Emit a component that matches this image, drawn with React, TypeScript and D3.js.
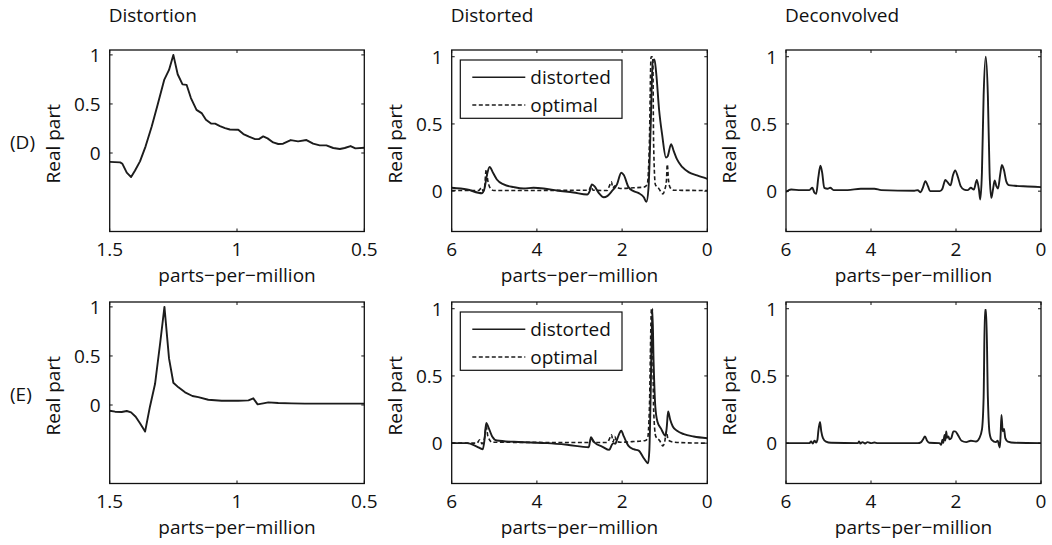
import React from 'react';
import * as d3 from 'd3';

// [ppm, real part]
const distortionD: [number, number][] = [
  [1.5, -0.09], [1.459, -0.095], [1.45, -0.11], [1.433, -0.2], [1.416, -0.245], [1.401, -0.18],
  [1.381, -0.085], [1.359, 0.068], [1.335, 0.27], [1.312, 0.49], [1.286, 0.745], [1.267, 0.847],
  [1.25, 1.0], [1.233, 0.803], [1.214, 0.7], [1.198, 0.695], [1.181, 0.56], [1.159, 0.44],
  [1.139, 0.407], [1.122, 0.34], [1.102, 0.3], [1.086, 0.3], [1.067, 0.275], [1.047, 0.254],
  [1.028, 0.24], [0.995, 0.237], [0.975, 0.193], [0.953, 0.166], [0.929, 0.142], [0.914, 0.142],
  [0.897, 0.17], [0.88, 0.149], [0.858, 0.108], [0.838, 0.092], [0.819, 0.095], [0.789, 0.132],
  [0.76, 0.119], [0.727, 0.132], [0.701, 0.095], [0.675, 0.078], [0.649, 0.078], [0.622, 0.051],
  [0.596, 0.041], [0.577, 0.051], [0.554, 0.071], [0.535, 0.047], [0.5, 0.054],
];

const distortedD: [number, number][] = [
  [6.0, 0.025], [5.64, 0.012], [5.29, -0.015], [5.23, 0.02], [5.17, 0.124], [5.11, 0.18],
  [5.03, 0.137], [4.94, 0.087], [4.78, 0.05], [4.54, 0.03], [4.31, 0.02], [4.08, 0.025],
  [3.84, 0.02], [3.53, 0.005], [3.14, -0.01], [2.82, -0.025], [2.76, 0], [2.71, 0.05],
  [2.65, 0.037], [2.55, -0.012], [2.43, -0.045], [2.35, -0.037], [2.24, 0], [2.12, 0.05],
  [2.02, 0.137], [1.96, 0.12], [1.85, 0.03], [1.73, 0], [1.61, -0.015], [1.49, -0.045],
  [1.43, -0.08], [1.38, 0.025], [1.33, 0.47], [1.28, 0.97], [1.24, 0.98], [1.2, 0.88],
  [1.13, 0.6], [1.06, 0.42], [0.97, 0.25], [0.93, 0.26], [0.85, 0.35], [0.79, 0.3],
  [0.71, 0.236], [0.59, 0.18], [0.44, 0.142], [0.24, 0.117], [0, 0.092],
];

const optimalD: [number, number][] = [
  [6, 0.005], [5.37, 0.005], [5.3, 0.025], [5.26, 0], [5.23, 0.025], [5.19, 0.16], [5.15, 0.075],
  [5.09, 0.02], [5.01, 0.005], [2.78, 0.007], [2.73, 0.037], [2.68, 0.007], [2.35, 0.005],
  [2.3, 0.037], [2.25, 0.07], [2.22, 0.025], [2.16, 0.04], [2.1, 0.025], [2.04, 0.02],
  [1.73, 0.025], [1.49, 0.03], [1.41, 0.05], [1.36, 0.35], [1.32, 1.0], [1.28, 1.0],
  [1.26, 0.35], [1.22, 0.05], [1.14, 0.02], [1.04, -0.02], [1.0, 0.01], [0.96, 0.075],
  [0.94, 0.2], [0.91, 0.08], [0.87, 0.025], [0.79, 0.007], [0, 0.005],
];

const deconvolvedD: [number, number][] = [
  [6, -0.005], [5.88, 0.012], [5.65, 0.008], [5.45, 0.008], [5.38, 0.025], [5.33, -0.012],
  [5.29, -0.02], [5.24, 0.1], [5.19, 0.19], [5.15, 0.14], [5.1, 0.025], [5.02, 0.018],
  [4.96, 0.025], [4.88, 0.008], [4.55, 0.008], [4.24, 0.018], [3.92, 0.018], [3.76, 0.008],
  [2.98, 0.003], [2.9, 0.008], [2.84, -0.008], [2.78, 0.025], [2.72, 0.075], [2.66, 0.037],
  [2.61, 0], [2.38, 0], [2.32, 0.018], [2.25, 0.083], [2.2, 0.067], [2.13, 0.043],
  [2.07, 0.12], [2.02, 0.155], [1.95, 0.1], [1.89, 0.037], [1.81, 0.012], [1.72, 0.008],
  [1.65, 0.025], [1.58, 0.012], [1.51, 0.083], [1.46, 0.012], [1.43, -0.062], [1.39, 0.137],
  [1.35, 0.71], [1.3, 1.0], [1.25, 0.71], [1.21, 0.137], [1.17, -0.05], [1.13, 0.012],
  [1.09, 0.08], [1.05, 0.037], [1.01, 0.02], [0.96, 0.125], [0.92, 0.195], [0.87, 0.155],
  [0.82, 0.075], [0.76, 0.045], [0.62, 0.04], [0.31, 0.035], [0, 0.03],
];

const distortionE: [number, number][] = [
  [1.5, -0.058], [1.479, -0.068], [1.453, -0.071], [1.433, -0.061], [1.416, -0.075],
  [1.398, -0.119], [1.381, -0.186], [1.361, -0.271], [1.342, -0.017], [1.322, 0.214],
  [1.302, 0.627], [1.285, 1.0], [1.267, 0.475], [1.25, 0.227], [1.23, 0.18], [1.204, 0.129],
  [1.175, 0.092], [1.152, 0.081], [1.113, 0.054], [1.06, 0.044], [0.995, 0.044],
  [0.955, 0.047], [0.936, 0.068], [0.919, 0.007], [0.897, 0.017], [0.877, 0.027],
  [0.838, 0.02], [0.786, 0.017], [0.733, 0.014], [0.602, 0.014], [0.5, 0.014],
];

const distortedE: [number, number][] = [
  [6, 0], [5.64, 0], [5.41, -0.025], [5.27, -0.045], [5.23, 0.025], [5.19, 0.15], [5.13, 0.112],
  [5.05, 0.05], [4.94, 0.02], [4.54, 0.01], [4.15, 0.005], [3.76, 0], [3.29, -0.012],
  [2.78, -0.03], [2.76, 0], [2.73, 0.045], [2.69, 0.025], [2.63, 0], [2.47, -0.025],
  [2.3, -0.05], [2.24, -0.012], [2.2, 0], [2.16, -0.005], [2.12, 0.025], [2.06, 0.075],
  [2.02, 0.092], [1.96, 0.05], [1.85, -0.02], [1.73, -0.045], [1.61, -0.055], [1.49, -0.112],
  [1.39, -0.15], [1.36, -0.05], [1.33, 0.35], [1.29, 1.0], [1.26, 0.6], [1.22, 0.27],
  [1.17, 0.16], [1.09, 0.11], [0.98, 0.055], [0.95, 0.125], [0.92, 0.236], [0.87, 0.174],
  [0.81, 0.124], [0.71, 0.092], [0.55, 0.067], [0.32, 0.05], [0, 0.037],
];

const optimalE: [number, number][] = [
  [6, 0], [5.41, 0], [5.34, 0.025], [5.29, -0.005], [5.23, 0.037], [5.19, 0.125], [5.15, 0.05],
  [5.05, 0.007], [2.76, 0.005], [2.72, 0.045], [2.67, 0.005], [2.35, 0.005], [2.3, 0.03],
  [2.25, 0.062], [2.21, 0.01], [2.17, 0.05], [2.13, 0.015], [2.04, 0.007], [1.73, 0.012],
  [1.45, 0.02], [1.4, 0.037], [1.36, 0.25], [1.31, 1.0], [1.28, 0.7], [1.26, 0.25],
  [1.21, 0.05], [1.12, 0.02], [1.04, -0.02], [1.0, 0.01], [0.96, 0.087], [0.92, 0.025],
  [0.85, 0.012], [0.71, 0.005], [0, 0],
];

const deconvolvedE: [number, number][] = [
  [6, 0], [5.45, 0], [5.41, 0.012], [5.37, -0.003], [5.33, 0.018], [5.29, 0.005], [5.26, 0.025],
  [5.24, 0.088], [5.2, 0.158], [5.17, 0.088], [5.13, 0.038], [5.06, 0.012], [4.94, 0.003],
  [4.31, 0], [4.28, 0.012], [4.25, -0.002], [4.2, 0.008], [4.14, -0.002], [4.08, 0.008],
  [4.0, 0], [3.92, 0.005], [3.84, 0], [2.9, 0], [2.82, 0.008], [2.78, 0.025], [2.73, 0.05],
  [2.68, 0.018], [2.63, 0.003], [2.39, 0], [2.35, -0.012], [2.32, 0.025], [2.3, 0.002],
  [2.27, 0.062], [2.25, 0.02], [2.23, 0.088], [2.21, 0.04], [2.18, 0.05], [2.15, 0.028],
  [2.11, 0.038], [2.06, 0.088], [2.02, 0.088], [1.95, 0.058], [1.87, 0.018], [1.76, 0.008],
  [1.65, 0.018], [1.53, 0.012], [1.45, 0.038], [1.39, 0.1], [1.35, 0.34], [1.32, 0.99],
  [1.29, 0.99], [1.25, 0.34], [1.21, 0.075], [1.16, 0.025], [1.06, 0.008], [1.02, 0.018],
  [0.97, -0.032], [0.95, 0.062], [0.93, 0.21], [0.9, 0.088], [0.87, 0.105], [0.84, 0.038],
  [0.78, 0.012], [0.62, 0.003], [0, 0],
];

const columnTitles = ['Distortion', 'Distorted', 'Deconvolved'];
const rowLabels = ['(D)', '(E)'];
const legendLabels = ['distorted', 'optimal'];
const xTicksNarrow = [1.5, 1, 0.5];
const xTicksWide = [6, 4, 2, 0];
const yTicks = [0, 0.5, 1];

const FONT = '"Open Sans", sans-serif';
const FS = 19;
const INK = '#1c1c1c';

const colLeft = [109.7, 451.7, 786];
const colWidth = [254.6, 255.6, 255];
const rowTop = [50, 302];
const panelH = 181.5;

type PanelProps = {
  left: number; top: number; width: number; height: number;
  xDomain: [number, number]; yDomain: [number, number]; xTicks: number[];
  solid: [number, number][]; dashed?: [number, number][]; smooth?: boolean;
};

const Panel = ({ left, top, width, height, xDomain, yDomain, xTicks, solid, dashed, smooth }: PanelProps) => {
  const x = d3.scaleLinear().domain(xDomain).range([left, left + width]);
  const y = d3.scaleLinear().domain(yDomain).range([top + height, top]);
  const line = d3.line<[number, number]>()
    .x(d => x(d[0]))
    .y(d => y(d[1]))
    .curve(smooth ? d3.curveMonotoneX : d3.curveLinear);
  const tk = 3;
  const bottom = top + height;
  const right = left + width;
  const fmt = (v: number) => String(v);
  const clipId = `clip-${Math.round(left)}-${top}`;
  return (
    <g>
      <clipPath id={clipId}>
        <rect x={left} y={top} width={width} height={height} />
      </clipPath>
      <g clipPath={`url(#${clipId})`}>
        {dashed && (
          <path d={line(dashed) || ''} fill="none" stroke={INK} strokeWidth={1.6} strokeDasharray="4,2.5" />
        )}
        <path d={line(solid) || ''} fill="none" stroke={INK} strokeWidth={1.9} strokeLinejoin="round" />
      </g>
      <rect x={left} y={top} width={width} height={height} fill="none" stroke="#111" strokeWidth={1.3} />
      {xTicks.map(t => (
        <g key={`x${t}`}>
          <line x1={x(t)} x2={x(t)} y1={bottom} y2={bottom - tk} stroke="#111" />
          <line x1={x(t)} x2={x(t)} y1={top} y2={top + tk} stroke="#111" />
          <text x={x(t)} y={bottom + 24} textAnchor="middle" fontSize={FS} fontFamily={FONT} fill="#111">{fmt(t)}</text>
        </g>
      ))}
      {yTicks.map(t => (
        <g key={`y${t}`}>
          <line x1={left} x2={left + tk} y1={y(t)} y2={y(t)} stroke="#111" />
          <line x1={right} x2={right - tk} y1={y(t)} y2={y(t)} stroke="#111" />
          <text x={left - 9} y={y(t) + 6.8} textAnchor="end" fontSize={FS} fontFamily={FONT} fill="#111">{fmt(t)}</text>
        </g>
      ))}
      <text transform={`translate(${left - 50},${top + height / 2 + 3}) rotate(-90)`} textAnchor="middle"
        fontSize={FS} fontFamily={FONT} fill="#111">Real part</text>
      <text x={left + width / 2} y={bottom + 50.5} textAnchor="middle" fontSize={FS} fontFamily={FONT} fill="#111">
        parts{'\u2212'}per{'\u2212'}million
      </text>
    </g>
  );
};

const Legend = ({ left, top }: { left: number; top: number }) => {
  const bx = left + 8.6;
  const by = top + 10;
  return (
    <g>
      <rect x={bx} y={by} width={161.7} height={58.3} fill="white" stroke="#111" strokeWidth={1.2} />
      <line x1={bx + 12} x2={bx + 65} y1={by + 17.3} y2={by + 17.3} stroke={INK} strokeWidth={1.6} />
      <line x1={bx + 12} x2={bx + 65} y1={by + 45} y2={by + 45} stroke={INK} strokeWidth={1.6} strokeDasharray="4,2.5" />
      {legendLabels.map((l, i) => (
        <text key={l} x={bx + 70} y={by + 17.3 + i * 27.7 + 6.5} fontSize={FS} fontFamily={FONT} fill="#111">{l}</text>
      ))}
    </g>
  );
};

export default function App() {
  const rows = [
    { distortion: distortionD, distorted: distortedD, optimal: optimalD, deconv: deconvolvedD },
    { distortion: distortionE, distorted: distortedE, optimal: optimalE, deconv: deconvolvedE },
  ];
  return (
    <svg width={1052} height={545} style={{ position: 'absolute', left: 0, top: 0, background: 'white' }}>
      {columnTitles.map((t, i) => (
        <text key={t} x={colLeft[i] - 1} y={21.7} fontSize={FS} fontFamily={FONT} fill="#111">{t}</text>
      ))}
      {rows.map((r, ri) => {
        const top = rowTop[ri];
        return (
          <g key={ri}>
            <text x={10} y={top + 99} fontSize={FS} fontFamily={FONT} fill="#111">{rowLabels[ri]}</text>
            <Panel left={colLeft[0]} top={top} width={colWidth[0]} height={panelH}
              xDomain={[1.5, 0.5]} yDomain={[-0.8, 1.05]} xTicks={xTicksNarrow} solid={r.distortion} />
            <Panel left={colLeft[1]} top={top} width={colWidth[1]} height={panelH}
              xDomain={[6, 0]} yDomain={[-0.3, 1.05]} xTicks={xTicksWide} solid={r.distorted} dashed={r.optimal} smooth />
            <Legend left={colLeft[1]} top={top} />
            <Panel left={colLeft[2]} top={top} width={colWidth[2]} height={panelH}
              xDomain={[6, 0]} yDomain={[-0.3, 1.05]} xTicks={xTicksWide} solid={r.deconv} smooth />
          </g>
        );
      })}
    </svg>
  );
}
